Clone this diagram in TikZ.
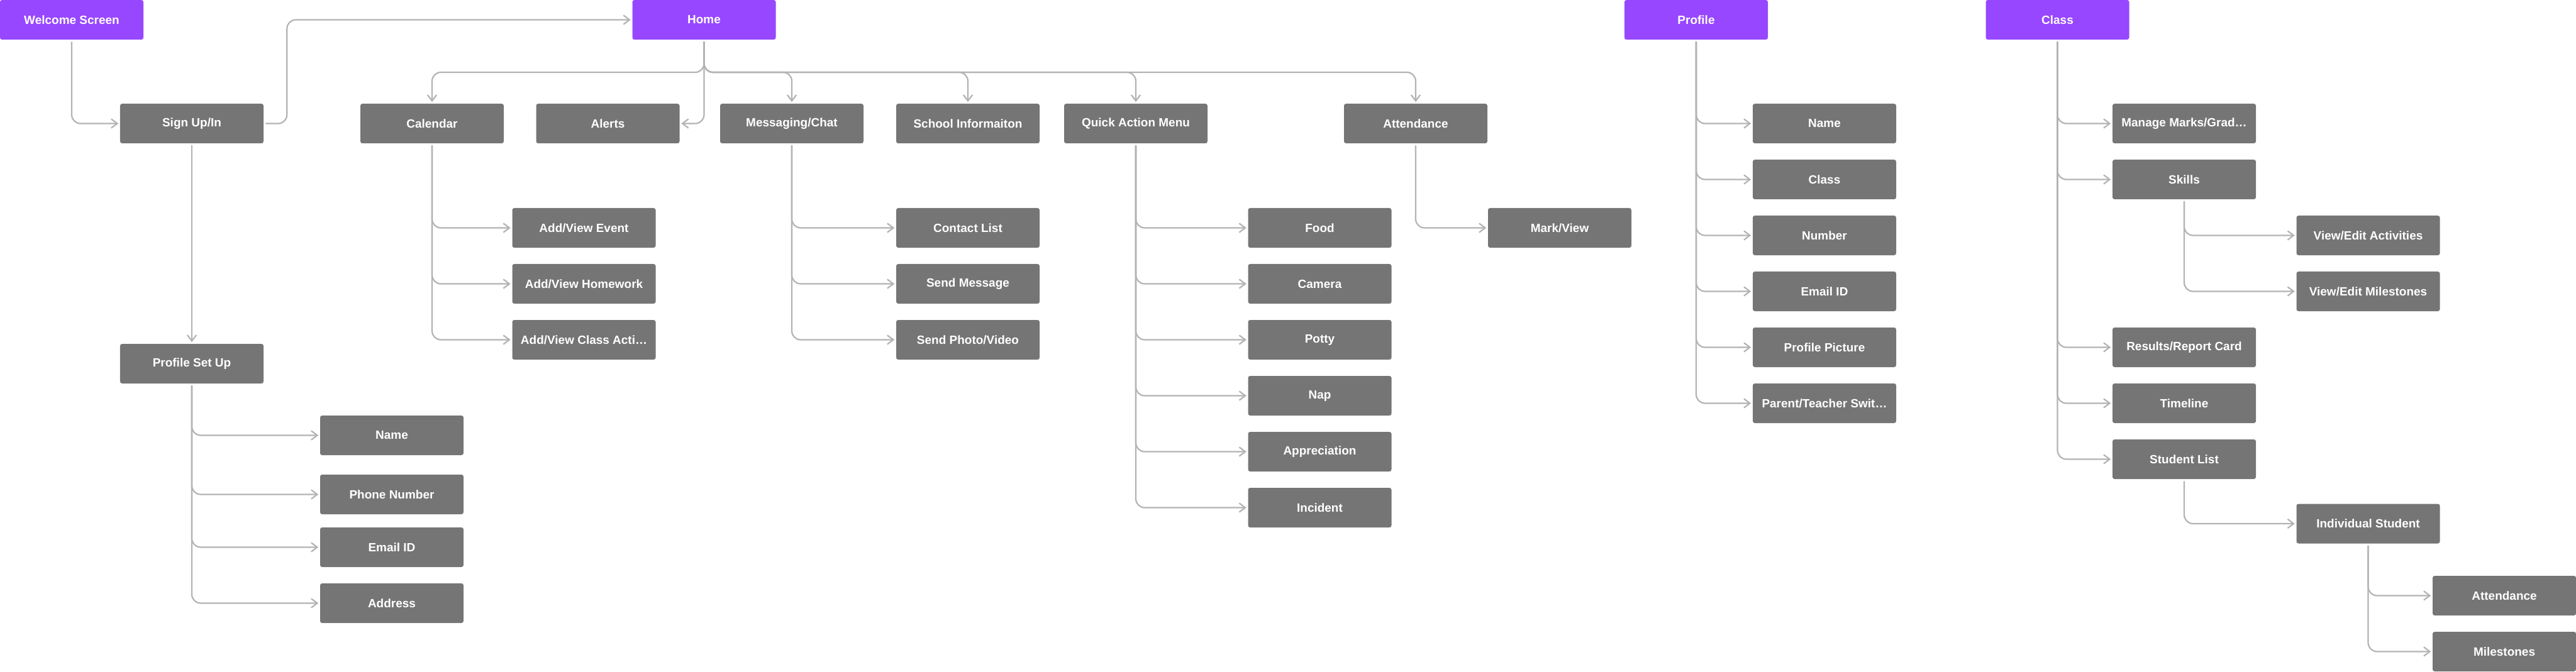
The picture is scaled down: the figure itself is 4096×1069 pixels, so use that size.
\documentclass[tikz,border=0pt]{standalone}
\usepackage{fontspec}
\setmainfont{Liberation Sans}
\usetikzlibrary{arrows.meta}
\definecolor{hdrpurple}{HTML}{9747FF}
\definecolor{boxgray}{HTML}{757575}
\definecolor{wiregray}{HTML}{B3B3B3}
\tikzset{
  basebox/.style={minimum width=57mm, minimum height=15.75mm, rounded corners=0.8mm,
    text=white, font=\fontsize{13.5}{16}\selectfont\bfseries, inner sep=0pt, anchor=center},
  hdrbox/.style={basebox, fill=hdrpurple},
  pagebox/.style={basebox, fill=boxgray},
  conn/.style={draw=wiregray, line width=0.55mm, rounded corners=3.5mm,
    -{Straight Barb[length=2.4mm, width=3.6mm]}, shorten >=0.6mm, shorten <=0.8mm}
}
\begin{document}
\begin{tikzpicture}[x=0.25mm,y=-0.25mm]
\useasboundingbox (0,0) rectangle (4096,1069);

% headers
\node[hdrbox] (welcome) at (114,31.5) {Welcome Screen};
\node[hdrbox] (home) at (1119.5,31.5) {Home};
\node[hdrbox] (profile) at (2697,31.5) {Profile};
\node[hdrbox] (class) at (3271.5,31.5) {Class};

% row 1
\node[pagebox] (signup) at (305,196.5) {Sign Up/In};
\node[pagebox] (calendar) at (687,196.5) {Calendar};
\node[pagebox] (alerts) at (966.5,196.5) {Alerts};
\node[pagebox] (msg) at (1259,196.5) {Messaging/Chat};
\node[pagebox] (school) at (1539,196.5) {School Informaiton};
\node[pagebox] (quick) at (1806,196.5) {Quick Action Menu};
\node[pagebox] (att) at (2251,196.5) {Attendance};

% profile set up
\node[pagebox] (psu) at (305,578.5) {Profile Set Up};
\node[pagebox] (psuname) at (623,692.5) {Name};
\node[pagebox] (psuphone) at (623,786.5) {Phone Number};
\node[pagebox] (psuemail) at (623,870.5) {Email ID};
\node[pagebox] (psuaddr) at (623,959.5) {Address};

% calendar kids
\node[pagebox] (cevent) at (928.5,362.5) {Add/View Event};
\node[pagebox] (chome) at (928.5,451.5) {Add/View Homework};
\node[pagebox] (cact) at (928.5,540.5) {Add/View Class Acti…};

% messaging kids
\node[pagebox] (mcontact) at (1539,362.5) {Contact List};
\node[pagebox] (msend) at (1539,451.5) {Send Message};
\node[pagebox] (mphoto) at (1539,540.5) {Send Photo/Video};

% quick kids
\node[pagebox] (qfood) at (2098.5,362.5) {Food};
\node[pagebox] (qcam) at (2098.5,451.5) {Camera};
\node[pagebox] (qpotty) at (2098.5,540.5) {Potty};
\node[pagebox] (qnap) at (2098.5,629.5) {Nap};
\node[pagebox] (qapp) at (2098.5,718.5) {Appreciation};
\node[pagebox] (qinc) at (2098.5,807.5) {Incident};

% attendance kid
\node[pagebox] (mark) at (2480,362.5) {Mark/View};

% profile kids
\node[pagebox] (pname) at (2901,196.5) {Name};
\node[pagebox] (pclass) at (2901,285.5) {Class};
\node[pagebox] (pnum) at (2901,374.5) {Number};
\node[pagebox] (pemail) at (2901,463.5) {Email ID};
\node[pagebox] (ppic) at (2901,552.5) {Profile Picture};
\node[pagebox] (pswitch) at (2901,641.5) {Parent/Teacher Swit…};

% class kids
\node[pagebox] (cmarks) at (3473,196.5) {Manage Marks/Grad…};
\node[pagebox] (cskills) at (3473,285.5) {Skills};
\node[pagebox] (cresults) at (3473,552.5) {Results/Report Card};
\node[pagebox] (ctime) at (3473,641.5) {Timeline};
\node[pagebox] (clist) at (3473,730.5) {Student List};
\node[pagebox] (sact) at (3765.5,374.5) {View/Edit Activities};
\node[pagebox] (smile) at (3765.5,463.5) {View/Edit Milestones};
\node[pagebox] (indiv) at (3765.5,833) {Individual Student};
\node[pagebox] (iatt) at (3982,947.5) {Attendance};
\node[pagebox] (imile) at (3982,1036.5) {Milestones};

% connectors
\draw[conn] (welcome.south) |- (signup.west);
\draw[conn] (signup.east) -- ++(37,0) |- (home.west);
\draw[conn] (signup.south) -- (psu.north);
\coordinate (bus) at (1119.5,115);
\foreach \n in {calendar,msg,school,quick,att}
  \draw[conn] (home.south) -- (bus) -| (\n.north);
\draw[conn] (home.south) |- (alerts.east);

\foreach \c in {psuname,psuphone,psuemail,psuaddr}
  \draw[conn] (psu.south) |- (\c.west);
\foreach \c in {cevent,chome,cact}
  \draw[conn] (calendar.south) |- (\c.west);
\foreach \c in {mcontact,msend,mphoto}
  \draw[conn] (msg.south) |- (\c.west);
\foreach \c in {qfood,qcam,qpotty,qnap,qapp,qinc}
  \draw[conn] (quick.south) |- (\c.west);
\draw[conn] (att.south) |- (mark.west);
\foreach \c in {pname,pclass,pnum,pemail,ppic,pswitch}
  \draw[conn] (profile.south) |- (\c.west);
\foreach \c in {cmarks,cskills,cresults,ctime,clist}
  \draw[conn] (class.south) |- (\c.west);
\foreach \c in {sact,smile}
  \draw[conn] (cskills.south) |- (\c.west);
\draw[conn] (clist.south) |- (indiv.west);
\foreach \c in {iatt,imile}
  \draw[conn] (indiv.south) |- (\c.west);
\end{tikzpicture}
\end{document}
